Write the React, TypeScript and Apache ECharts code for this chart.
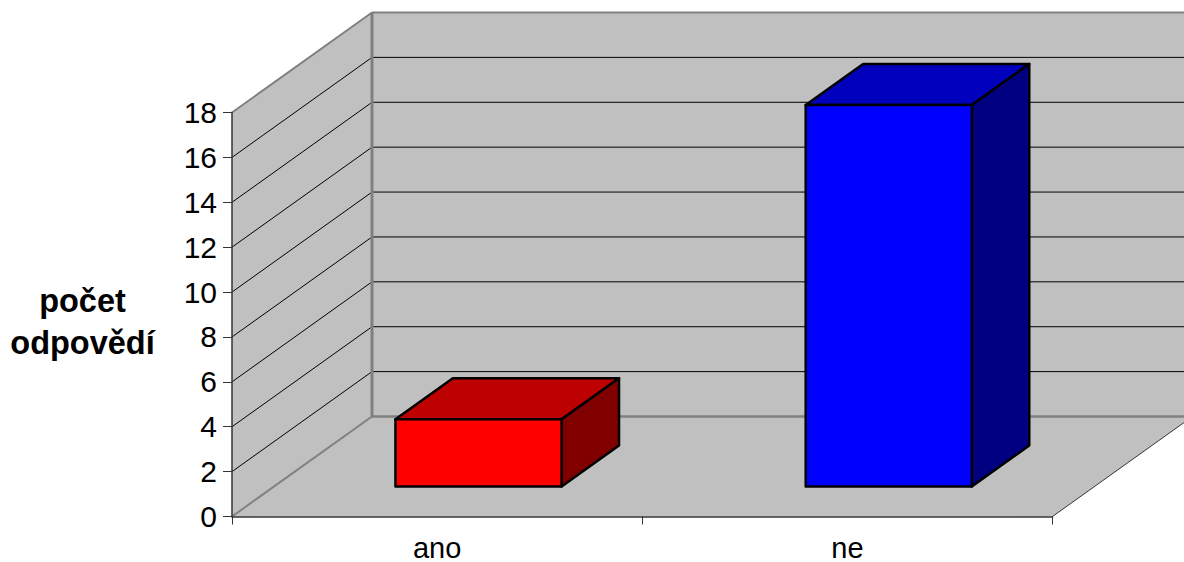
import React, { useEffect, useRef } from "react";
import * as echarts from "echarts";

const categories = ["ano", "ne"];
const answers = [3, 17];
const faceColors = ["#FF0000", "#0000FF"];
const topColors = ["#BD0000", "#0000BD"];
const sideColors = ["#800000", "#000080"];
const axisTicks = [0, 2, 4, 6, 8, 10, 12, 14, 16, 18];
const yAxisTitle = ["počet", "odpovědí"];

const FONT = '"Liberation Sans", Arial, sans-serif';
const DEPTH_X = 140;
const DEPTH_Y = -100;
const BAR_START = 0.3;
const BAR_DEPTH = 0.41;
const BAR_WIDTH = 0.405;
const WALL = "#C0C0C0";
const EDGE = "#808080";

function poly(points: number[][], fill: string, stroke: string, lineWidth: number) {
  return {
    type: "polygon",
    shape: { points },
    style: { fill, stroke, lineWidth, lineJoin: "round" },
  };
}

function seg(x1: number, y1: number, x2: number, y2: number, stroke: string, lineWidth: number) {
  return { type: "line", shape: { x1, y1, x2, y2 }, style: { stroke, lineWidth, fill: "none" } };
}

function renderWalls(params: any, api: any) {
  const cs = params.coordSys;
  const left = cs.x;
  const right = cs.x + cs.width;
  const top = cs.y;
  const bottom = cs.y + cs.height;
  const dx = DEPTH_X;
  const dy = DEPTH_Y;
  const children: any[] = [
    poly([[left, top], [left + dx, top + dy], [left + dx, bottom + dy], [left, bottom]], WALL, "none", 0),
    poly([[left + dx, top + dy], [right + dx, top + dy], [right + dx, bottom + dy], [left + dx, bottom + dy]], WALL, "none", 0),
    poly([[left, bottom], [left + dx, bottom + dy], [right + dx, bottom + dy], [right, bottom]], WALL, "none", 0),
  ];
  axisTicks.forEach((v) => {
    const y = api.coord([0, v])[1];
    if (v === 0) return;
    if (v === 18) return;
    children.push(seg(left, y, left + dx, y + dy, "#000000", 1));
    children.push(seg(left + dx, y + dy, right + dx, y + dy, "#000000", 1));
  });
  children.push(seg(left, top, left + dx, top + dy, EDGE, 2));
  children.push(seg(left + dx, top + dy, right + dx, top + dy, EDGE, 2));
  children.push(seg(left + dx, top + dy, left + dx, bottom + dy, EDGE, 3));
  children.push(seg(left + dx, bottom + dy, right + dx, bottom + dy, EDGE, 2.5));
  children.push(seg(left, bottom, left + dx, bottom + dy, EDGE, 2));
  children.push(seg(right, bottom, right + dx, bottom + dy, "#333333", 1));
  return { type: "group", children };
}

function renderBar(_params: any, api: any) {
  const i = api.value(0);
  const v = api.value(1);
  const base = api.coord([i, 0]);
  const head = api.coord([i, v]);
  const w = api.size([1, 0])[0] * BAR_WIDTH;
  const ox = DEPTH_X * BAR_START;
  const oy = DEPTH_Y * BAR_START;
  const px = DEPTH_X * BAR_DEPTH;
  const py = DEPTH_Y * BAR_DEPTH;
  const x0 = base[0] + ox - w / 2 - 0.6;
  const x1 = x0 + w;
  const yb = base[1] + oy;
  const yt = head[1] + oy;
  return {
    type: "group",
    children: [
      poly([[x0, yt], [x1, yt], [x1 + px, yt + py], [x0 + px, yt + py]], topColors[i], "#000000", 2.5),
      poly([[x1, yt], [x1 + px, yt + py], [x1 + px, yb + py], [x1, yb]], sideColors[i], "#000000", 2.5),
      poly([[x0, yt], [x1, yt], [x1, yb], [x0, yb]], faceColors[i], "#000000", 2.5),
    ],
  };
}

export default function App() {
  const ref = useRef<HTMLDivElement>(null);
  useEffect(() => {
    const chart = echarts.init(ref.current!, undefined, { renderer: "svg" });
    chart.setOption({
      animation: false,
      backgroundColor: "#FFFFFF",
      grid: { left: 232, top: 112.5, width: 820.5, height: 404, outerBoundsMode: "none" },
      xAxis: {
        type: "category",
        data: categories,
        z: 5,
        boundaryGap: true,
        axisLine: { show: true, lineStyle: { color: "#333333", width: 1.5 } },
        axisTick: { show: true, length: 8, alignWithLabel: false, lineStyle: { color: "#333333", width: 1 } },
        axisLabel: { color: "#000000", fontFamily: FONT, fontSize: 29, lineHeight: 20, margin: 21 },
        splitLine: { show: false },
      },
      yAxis: {
        type: "value",
        min: 0,
        max: 18,
        interval: 2,
        z: 5,
        axisLine: { show: true, lineStyle: { color: "#333333", width: 1.5 } },
        axisTick: { show: true, length: 9, lineStyle: { color: "#333333", width: 1 } },
        axisLabel: { color: "#000000", fontFamily: FONT, fontSize: 30, margin: 15 },
        splitLine: { show: false },
      },
      graphic: [
        {
          type: "text",
          x: 82.5,
          y: 322,
          style: {
            text: yAxisTitle.join("\n"),
            fontFamily: FONT,
            fontWeight: "bold",
            fontSize: 32.5,
            lineHeight: 42,
            fill: "#000000",
            align: "center",
            verticalAlign: "middle",
          },
        },
      ],
      series: [
        {
          type: "custom",
          clip: false,
          silent: true,
          renderItem: renderWalls,
          encode: { x: 0, y: 1 },
          data: [[0, 0]],
        },
        {
          type: "custom",
          clip: false,
          renderItem: renderBar,
          encode: { x: 0, y: 1 },
          data: answers.map((v, i) => [i, v]),
        },
      ],
    });
    return () => chart.dispose();
  }, []);
  return (
    <div
      ref={ref}
      style={{ position: "absolute", left: 0, top: 0, width: 1184, height: 562 }}
    />
  );
}
